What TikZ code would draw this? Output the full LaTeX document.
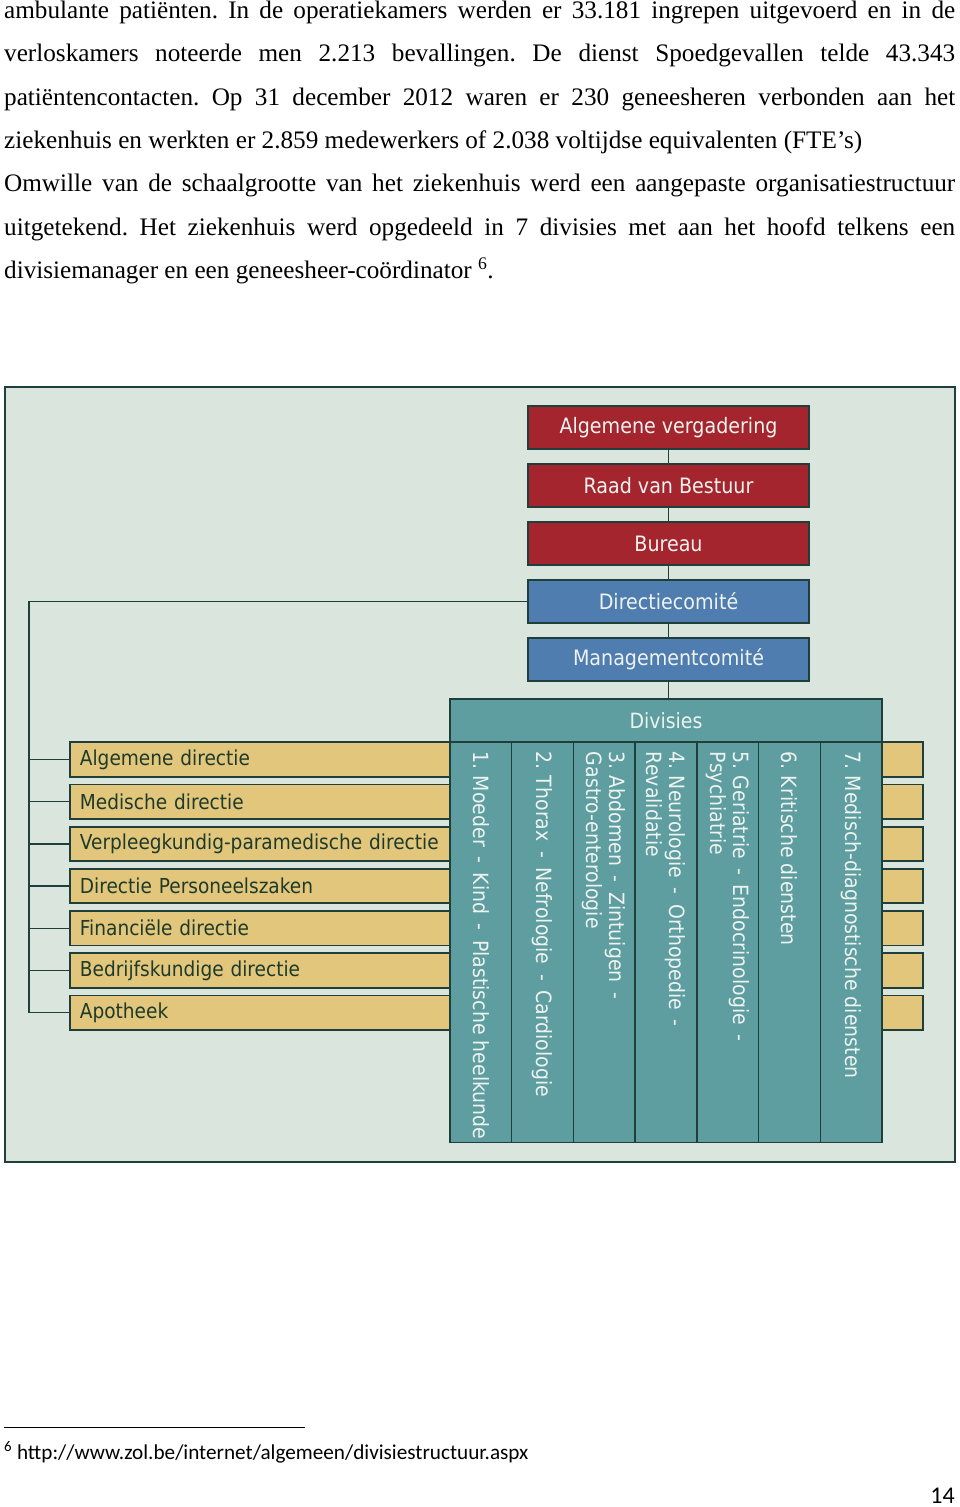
\documentclass[tikz,border=0pt]{standalone}
\usepackage{fontspec}
\setmainfont{Liberation Serif}
\newfontfamily\orgfont[FakeStretch=0.9]{DejaVu Sans}
\newfontfamily\notefont{Carlito}
\usetikzlibrary{positioning, calc}
\frenchspacing
\newcommand{\fullline}[1]{\makebox[951pt][s]{#1}}
\newcommand{\sep}{\,\ -\ \,}
\definecolor{chart bg}{HTML}{DAE5DD}
\definecolor{chart edge}{HTML}{1E3F3A}
\definecolor{board red}{HTML}{A4252D}
\definecolor{comite blue}{HTML}{4F7DAF}
\definecolor{divisie teal}{HTML}{5F9EA0}
\definecolor{directie yellow}{HTML}{E2C67B}
\definecolor{directie text}{HTML}{1E3A2A}
\definecolor{light text}{HTML}{EEF3F0}
\tikzset{
  chart/.style={fill=chart bg, draw=chart edge, line width=1.5pt},
  link/.style={draw=chart edge, line width=1.5pt},
  topbox/.style={draw=chart edge, line width=1.8pt, minimum width=281pt,
    minimum height=43pt, inner sep=0pt, text=light text,
    font=\orgfont\fontsize{21.2}{24}\selectfont},
  boardbox/.style={topbox, fill=board red},
  comitebox/.style={topbox, fill=comite blue},
  dirbox/.style={anchor=west, fill=directie yellow, draw=chart edge,
    line width=1.8pt, minimum height=34.5pt, text width=833pt,
    inner xsep=10pt, inner ysep=0pt, align=left, text=directie text,
    font=\orgfont\fontsize{20.6}{24}\selectfont},
  divhead/.style={fill=divisie teal, draw=chart edge, line width=1.8pt,
    minimum width=432pt, minimum height=43pt, inner sep=0pt, text=light text,
    font=\orgfont\fontsize{21}{24}\selectfont},
  divcol/.style={fill=divisie teal, draw=chart edge, line width=1.5pt,
    minimum width=61.71pt, minimum height=400pt, inner sep=0pt},
  divtext/.style={rotate=-90, anchor=west, align=left, inner sep=0pt,
    text=light text, font=\orgfont\fontsize{21}{23}\selectfont},
  node distance=13.2pt
}

\begin{document}
\begin{tikzpicture}[x=1pt, y=-1pt]
  \fill[white] (0,0) rectangle (960,1507);
  \useasboundingbox (0,0) rectangle (960,1507);

  % text above the chart
  \begin{scope}[every node/.style={anchor=base west, inner sep=0pt,
      font=\fontsize{25.2}{30}\selectfont}]
    \node (l1) at (4,18.5)  {\fullline{ambulante patiënten. In de operatiekamers werden er 33.181 ingrepen uitgevoerd en in de}};
    \node (l2) at (4,61.8)  {\fullline{verloskamers noteerde men 2.213 bevallingen. De dienst Spoedgevallen telde 43.343}};
    \node (l3) at (4,105.1) {\fullline{patiëntencontacten. Op 31 december 2012 waren er 230 geneesheren verbonden aan het}};
    \node (l4) at (4,148.4) {ziekenhuis en werkten er 2.859 medewerkers of 2.038 voltijdse equivalenten (FTE’s)};
    \node (l5) at (4,191.7) {\fullline{Omwille van de schaalgrootte van het ziekenhuis werd een aangepaste organisatiestructuur}};
    \node (l6) at (4,235)   {\fullline{uitgetekend. Het ziekenhuis werd opgedeeld in 7 divisies met aan het hoofd telkens een}};
    \node (l7) at (4,278.3) {divisiemanager en een geneesheer-coördinator \textsuperscript{6}.};
  \end{scope}

  % chart
  \draw[chart] (5,387) rectangle (955,1162);

  \node[boardbox] (av) at (668.5,427.5) {Algemene vergadering};
  \node[boardbox, below=of av] (rvb) {Raad van Bestuur};
  \node[boardbox, below=of rvb] (bur) {Bureau};
  \node[comitebox, below=of bur] (dc) {Directiecomité};
  \node[comitebox, below=of dc] (mc) {Managementcomité};

  \foreach \dirname [count=\i] in {Algemene directie, Medische directie,
      Verpleegkundig-paramedische directie, Directie Personeelszaken,
      Financiële directie, Bedrijfskundige directie, Apotheek}
    \node[dirbox] (dir\i) at (69,{717.3+42.2*\i}) {\dirname};

  \node[divhead] (divisies) at (666,720.5) {Divisies};
  \foreach \divname [count=\i] in {1. Moeder\sep Kind\sep Plastische heelkunde,
      2. Thorax\sep Nefrologie\sep Cardiologie,
      {3. Abdomen\sep Zintuigen\ \,-\\Gastro-enterologie},
      {4. Neurologie\sep Orthopedie\ \,-\\Revalidatie},
      {5. Geriatrie\sep Endocrinologie\ \,-\\Psychiatrie},
      6. Kritische diensten,
      7. Medisch-diagnostische diensten}
  {
    \node[divcol] (col\i) at ({450+61.71*(\i-0.5)},942.5) {};
    \node[divtext] (coltext\i) at ($(col\i.north)+(0,10)$) {\divname};
  }

  % connectors
  \coordinate (trunk) at (29,0);
  \draw[link] (av) -- (rvb);
  \draw[link] (rvb) -- (bur);
  \draw[link] (bur) -- (dc);
  \draw[link] (dc) -- (mc);
  \draw[link] (mc.south) -- (mc.south |- divisies.north);
  \draw[link] (dc.west) -| (dir7.west -| trunk);
  \foreach \i in {1,...,7}
    \draw[link] (dir\i.west) -- (dir\i.west -| trunk);

  % footnote
  \coordinate (rule start) at (4,1427);
  \coordinate (rule end) at (305,1427);
  \draw[line width=1pt] (rule start) -- (rule end);
  \node[anchor=base west, inner sep=0pt, font=\notefont\fontsize{21.2}{24}\selectfont]
    (note) at (4,1459) {\textsuperscript{6} http://www.zol.be/internet/algemeen/divisiestructuur.aspx};
  \node[anchor=base east, inner sep=0pt, font=\notefont\fontsize{24}{28}\selectfont]
    (pagenr) at (955,1503) {14};
\end{tikzpicture}
\end{document}
